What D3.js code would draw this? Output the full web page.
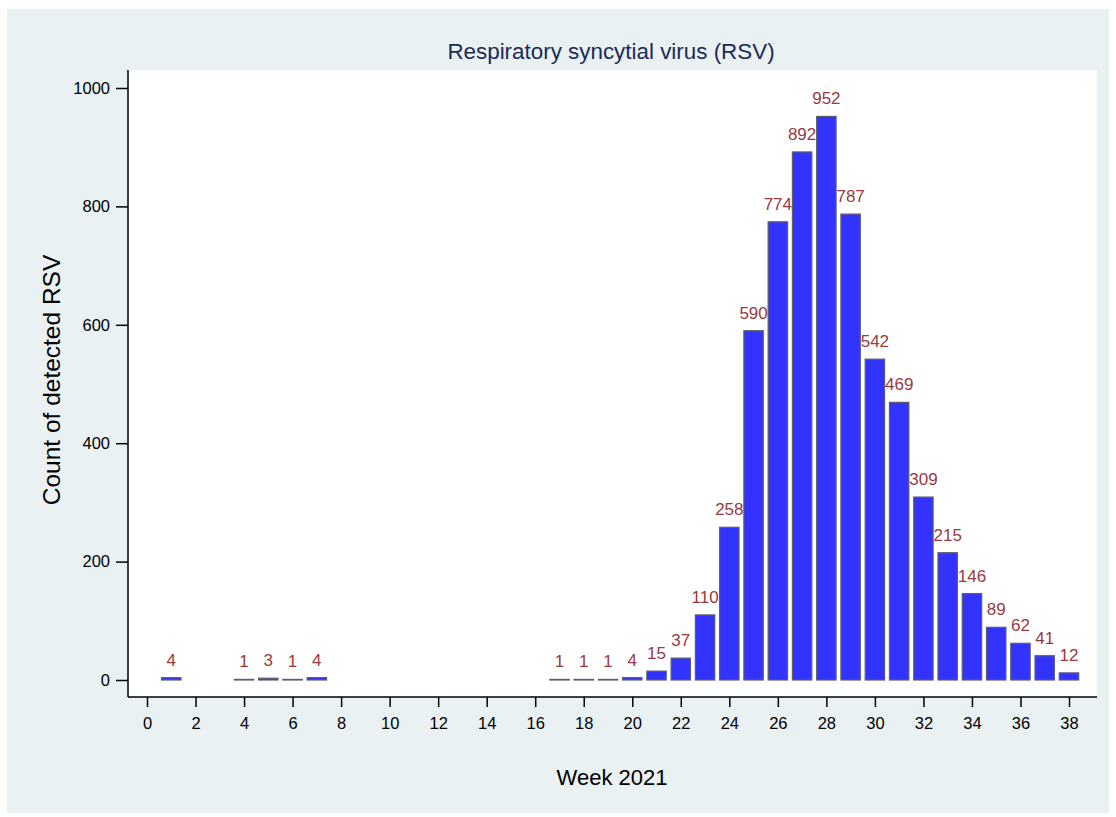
<!DOCTYPE html>
<html>
<head>
<meta charset="utf-8">
<script src="https://cdn.jsdelivr.net/npm/d3@7"></script>
<style>
  body { margin: 0; background: #fff; }
  text { font-family: "Liberation Sans", Arial, sans-serif; }
</style>
</head>
<body>
<div id="chart"></div>
<script>
// weekly counts of detected RSV, 2021
const weeks = [1, 4, 5, 6, 7, 17, 18, 19, 20, 21, 22, 23, 24, 25, 26, 27, 28, 29, 30, 31, 32, 33, 34, 35, 36, 37, 38];
const counts = [4, 1, 3, 1, 4, 1, 1, 1, 4, 15, 37, 110, 258, 590, 774, 892, 952, 787, 542, 469, 309, 215, 146, 89, 62, 41, 12];
const xTicks = d3.range(0, 39, 2);
const yTicks = [0, 200, 400, 600, 800, 1000];

const width = 1116, height = 817;
const plot = {left: 128, right: 1097, top: 70, bottom: 697};

const svg = d3.select("#chart")
  .append("svg")
  .attr("width", width)
  .attr("height", height);

// outer background
svg.append("rect")
  .attr("x", 7).attr("y", 9)
  .attr("width", 1102).attr("height", 804)
  .attr("fill", "#eaf1f3");

svg.append("rect")
  .attr("x", plot.left).attr("y", plot.top)
  .attr("width", plot.right - plot.left).attr("height", plot.bottom - plot.top)
  .attr("fill", "#ffffff");

const x = d3.scaleLinear().domain([0, 38]).range([147, 1069]);
const y = d3.scaleLinear().domain([0, 1000]).range([680, 88]);
const barW = (x(1) - x(0)) * 0.8;

const data = weeks.map((w, i) => ({week: w, count: counts[i]}));

svg.selectAll("rect.bar")
  .data(data)
  .enter()
  .append("rect")
  .attr("class", "bar")
  .attr("x", d => x(d.week) - barW / 2)
  .attr("y", d => y(d.count))
  .attr("width", barW)
  .attr("height", d => y(0) - y(d.count))
  .attr("fill", "#3333ff")
  .attr("stroke", "#5e5e6e")
  .attr("stroke-width", 1.2);

svg.selectAll("text.lbl")
  .data(data)
  .enter()
  .append("text")
  .attr("class", "lbl")
  .attr("x", d => x(d.week))
  .attr("y", d => y(d.count) - 12)
  .attr("text-anchor", "middle")
  .attr("font-size", 17)
  .attr("fill", "#983a3f")
  .text(d => d.count);

// axes
const yAxis = d3.axisLeft(y).tickValues(yTicks).tickFormat(d3.format("d")).tickSize(12).tickPadding(6);
const gy = svg.append("g")
  .attr("transform", `translate(${plot.left},0)`)
  .call(yAxis);
gy.select(".domain").remove();
gy.append("line")
  .attr("x1", 0).attr("x2", 0)
  .attr("y1", plot.top).attr("y2", plot.bottom)
  .attr("stroke", "#000").attr("stroke-width", 1.5);

const xAxis = d3.axisBottom(x).tickValues(xTicks).tickSize(10).tickPadding(10);
const gx = svg.append("g")
  .attr("transform", `translate(0,${plot.bottom})`)
  .call(xAxis);
gx.select(".domain").remove();
gx.append("line")
  .attr("x1", plot.left).attr("x2", plot.right)
  .attr("y1", 0).attr("y2", 0)
  .attr("stroke", "#000").attr("stroke-width", 1.5);

svg.selectAll(".tick text")
  .style("font-size", "16.5px")
  .style("font-family", "Liberation Sans, Arial, sans-serif")
  .attr("fill", "#000");
svg.selectAll(".tick line").attr("stroke", "#000").attr("stroke-width", 1.5);

// titles
svg.append("text")
  .attr("x", 611).attr("y", 59)
  .attr("text-anchor", "middle")
  .attr("font-size", 22.4)
  .attr("fill", "#1c2a58")
  .text("Respiratory syncytial virus (RSV)");

svg.append("text")
  .attr("x", 612).attr("y", 785)
  .attr("text-anchor", "middle")
  .attr("font-size", 22)
  .attr("fill", "#000")
  .text("Week 2021");

svg.append("text")
  .attr("transform", "translate(60,380) rotate(-90)")
  .attr("text-anchor", "middle")
  .attr("font-size", 24.5)
  .attr("fill", "#000")
  .text("Count of detected RSV");
</script>
</body>
</html>
